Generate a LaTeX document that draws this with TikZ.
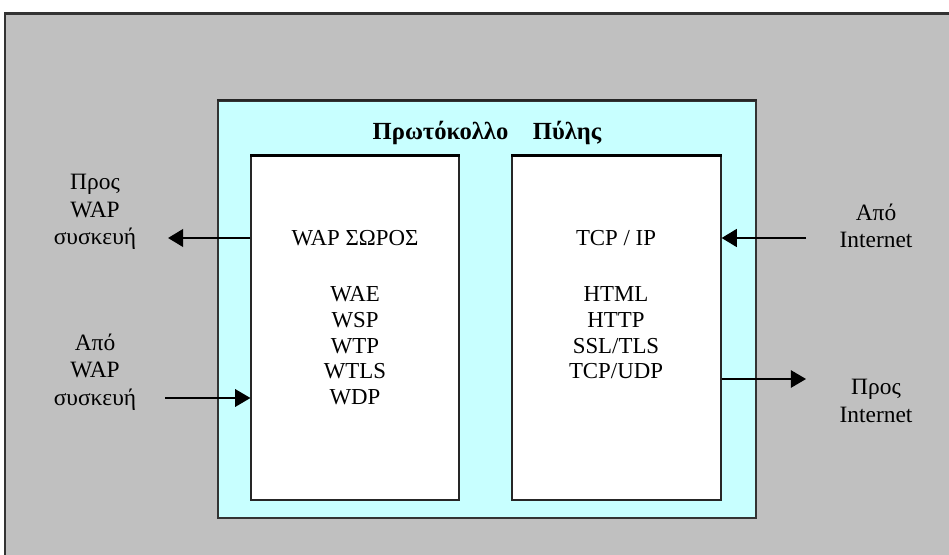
\documentclass[tikz,border=0pt]{standalone}
\usepackage{fontspec}
\setmainfont{Liberation Serif}
\usepackage{tikz}
\usetikzlibrary{arrows.meta,fit,positioning}
\definecolor{bggray}{RGB}{192,192,192}
\definecolor{gatecyan}{RGB}{200,255,255}

\begin{document}
\begin{tikzpicture}[x=0.03cm,y=-0.03cm,
		bigarrow/.style = {line width=2.4pt,-{Triangle[length=13pt,width=15pt]}},
		smallarrow/.style = {line width=1.1pt,-{Triangle[length=13pt,width=15pt]}}]
	\tikzset{stackbox/.style={draw=black!85,line width=1pt,fill=white,inner sep=0pt}}
	\tikzset{side/.style={align=center,font=\fontsize{20}{23.5}\selectfont}}
	\tikzset{layers/.style={align=center,inner sep=0pt,font=\fontsize{19.5}{22}\selectfont}}

	\useasboundingbox (0,0) rectangle (949,554);

	% Background
	\fill[white] (0,0) rectangle (949,554);
	\node[fit={(5,14) (951,556)}, inner sep=0pt, draw=black!80, line width=1pt, fill=bggray] (back) {};
	\draw[black!80, line width=2pt] (back.north west) -- (back.north east);

	% Gateway
	\node[fit={(218,101) (756,518)}, inner sep=0pt, draw=black!80, line width=1.2pt, fill=gatecyan] (gate) {};
	\draw[black!85, line width=2pt] (gate.north west) -- (gate.north east);
	\node[font=\bfseries\fontsize{21}{24}\selectfont] (title) at (487,133) {Πρωτόκολλο\quad Πύλης};

	% Stacks
	\node[fit={(251,156) (459,500)}, stackbox] (wapstack) {};
	\node[fit={(512,156) (721,500)}, stackbox] (netstack) {};
	\draw[black, line width=2.2pt] (wapstack.north west) -- (wapstack.north east);
	\draw[black, line width=2.2pt] (netstack.north west) -- (netstack.north east);

	\node[layers, anchor=north] (waplayers) at (355,230) {WAP ΣΩΡΟΣ\\[26pt] WAE\\ WSP\\ WTP\\ WTLS\\ WDP};
	\node[layers, anchor=north] (netlayers) at (616,230) {TCP / IP\\[26pt] HTML\\ HTTP\\ SSL/TLS\\ TCP/UDP};

	% Side labels
	\node[side] (towap) at (95,212) {Προς\\ WAP\\ συσκευή};
	\node[side] (fromwap) at (95,372) {Από\\ WAP\\ συσκευή};
	\node[side] (fromnet) at (876,226) {Από\\ Internet};
	\node[side] (tonet) at (876,401) {Προς\\ Internet};

	\coordinate (towapend) at (168,238);
	\coordinate (fromwapstart) at (165,398);
	\coordinate (fromnetstart) at (806,238);
	\coordinate (tonetend) at (806,379);

	\draw[bigarrow] (wapstack.west |- towapend) -- (towapend);
	\draw[smallarrow] (fromwapstart) -- (wapstack.west |- fromwapstart);
	\draw[bigarrow] (fromnetstart) -- (netstack.east |- fromnetstart);
	\draw[smallarrow] (netstack.east |- tonetend) -- (tonetend);

\end{tikzpicture}
\end{document}
